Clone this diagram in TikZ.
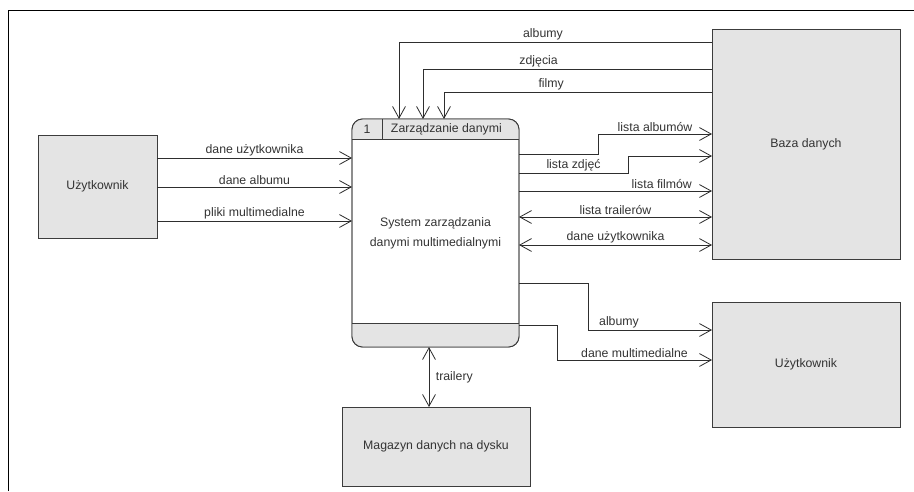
\documentclass[tikz,border=0pt]{standalone}
\usepackage{fontspec}
\setmainfont{Liberation Sans}
\usetikzlibrary{arrows.meta, positioning}

\definecolor{boxfill}{HTML}{E4E4E4}
\definecolor{boxline}{HTML}{3C3C3C}
\definecolor{flowline}{HTML}{2E2E2E}
\definecolor{txt}{HTML}{333333}
\newcommand{\dfdfont}{\fontsize{10.5}{17}\selectfont}

\tikzset{
  extbox/.style={draw=boxline, fill=boxfill, line width=0.8pt, inner sep=0pt, outer sep=0pt, font=\dfdfont, text=txt},
  procbox/.style={draw=boxline, fill=white, line width=0.8pt, rounded corners=9pt, inner sep=0pt, outer sep=0pt,
    minimum width=5.01cm, minimum height=6.84cm, align=center, font=\dfdfont, text=txt},
  flow/.style={draw=flowline, line width=0.7pt, -{Straight Barb[length=10pt, width=11pt, line width=0.7pt]}},
  biflow/.style={flow, {Straight Barb[length=10pt, width=11pt, line width=0.7pt]}-{Straight Barb[length=10pt, width=11pt, line width=0.7pt]}},
  lbl/.style={font=\dfdfont, text=txt, inner sep=1.5pt}
}

\begin{document}
\begin{tikzpicture}[x=0.03cm, y=-0.03cm]
\useasboundingbox (0,0) rectangle (914,491);
% frame
\draw[line width=0.8pt] (8,491) -- (8,10) -- (914,10);

% external entities and store
\node[extbox, minimum width=3.57cm, minimum height=3.09cm] (userL) at (97.5,186.5) {Użytkownik};
\node[extbox, minimum width=5.64cm, minimum height=6.9cm] (db) at (806,144) {Baza danych};
\node[extbox, minimum width=5.64cm, minimum height=3.75cm] (userR) at (806,364.5) {Użytkownik};
\node[extbox, minimum width=5.64cm, minimum height=2.37cm] (store) at (436,446.5) {Magazyn danych na dysku};

% process
\node[procbox] (proc) at (435.5,233) {System zarządzania\\danymi multimedialnymi};
\begin{scope}
\clip (proc.north west) rectangle (proc.east |- 0,139);
\fill[boxfill, rounded corners=9pt] (proc.north west) rectangle (proc.south east);
\end{scope}
\begin{scope}
\clip (proc.west |- 0,323) rectangle (proc.south east);
\fill[boxfill, rounded corners=9pt] (proc.north west) rectangle (proc.south east);
\end{scope}
\draw[boxline, line width=0.8pt, rounded corners=9pt] (proc.north west) rectangle (proc.south east);
\draw[boxline, line width=0.8pt] (proc.west |- 0,139) -- (proc.east |- 0,139);
\draw[boxline, line width=0.8pt] (proc.west |- 0,323) -- (proc.east |- 0,323);
\draw[boxline, line width=0.8pt] (382,119) -- (382,139);
\node[lbl] (pnum) at (367,129.5) {1};
\node[lbl, anchor=west] (ptitle) at (389,129.5) {Zarządzanie danymi};

% inputs from the user
\draw[flow] (userL.east |- 0,158) -- (proc.west |- 0,158) node[lbl, midway, above] {dane użytkownika};
\draw[flow] (userL.east |- 0,187) -- (proc.west |- 0,187) node[lbl, midway, above] {dane albumu};
\draw[flow] (userL.east |- 0,221) -- (proc.west |- 0,221) node[lbl, midway, above] {pliki multimedialne};

% from the database
\draw[flow] (db.west |- 0,42) -| (proc.north -| 399,0) node[lbl, pos=0.27, above] {albumy};
\draw[flow] (db.west |- 0,69) -| (proc.north -| 423,0) node[lbl, pos=0.3, above] {zdjęcia};
\draw[flow] (db.west |- 0,92) -| (proc.north -| 444,0) node[lbl, pos=0.3, above] {filmy};

% to the database
\draw[flow] (proc.east |- 0,154) -- (598,154) -- (598,134) -- (db.west |- 0,134) node[lbl, midway, above] {lista albumów};
\draw[flow] (proc.east |- 0,173) -- (628,173) node[lbl, midway, above] {lista zdjęć} -- (628,156) -- (db.west |- 0,156);
\draw[flow] (proc.east |- 0,191) -- (db.west |- 0,191) node[lbl, pos=0.74, above] {lista filmów};
\draw[biflow] (proc.east |- 0,217) -- (db.west |- 0,217) node[lbl, midway, above] {lista trailerów};
\draw[biflow] (proc.east |- 0,245) -- (db.west |- 0,245) node[lbl, midway, above] {dane użytkownika};

% to the user
\draw[flow] (proc.east |- 0,283) -- (588,283) -- (588,330) -- (userR.west |- 0,330) node[lbl, pos=0.25, above] {albumy};
\draw[flow] (proc.east |- 0,325) -- (557,325) -- (557,360) -- (userR.west |- 0,360) node[lbl, midway, above] {dane multimedialne};

% store
\draw[biflow] (proc.south -| 429,0) -- (store.north -| 429,0) node[lbl, midway, right=4pt] {trailery};
\end{tikzpicture}
\end{document}
